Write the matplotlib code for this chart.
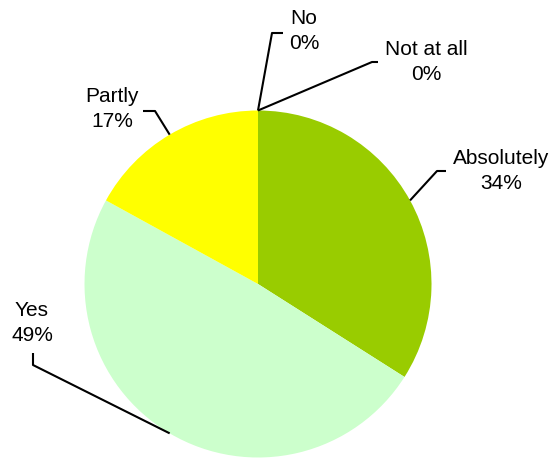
import numpy as np
import matplotlib
matplotlib.use('agg')
import matplotlib.pyplot as plt

labels = ['Absolutely', 'Yes', 'Partly', 'No', 'Not at all']
values = [34, 49, 17, 0, 0]
colors = ['#99CC00', '#CCFFCC', '#FFFF00', '#FF9900', '#3366FF']

W, H = 553, 458
cx, cy, r = 258, H - 284, 173.5

# label text centre and leader elbow (image pixels, y down), per slice
label_pos = {
    'Absolutely': (501, 171),
    'Yes': (32, 323),
    'Partly': (112, 109),
    'No': (304, 31),
    'Not at all': (426, 62),
}
elbows = {
    'Absolutely': [(437, 171), (446, 171)],
    'Yes': [(33, 365), (33, 353)],
    'Partly': [(155, 111), (143, 111)],
    'No': [(272, 33), (283, 33)],
    'Not at all': [(372, 62), (378, 62)],
}

fig = plt.figure(figsize=(W / 100, H / 100), dpi=100)
ax = fig.add_axes([0, 0, 1, 1])
wedges, _ = ax.pie(values, colors=colors, startangle=90, counterclock=False,
                   center=(cx, cy), radius=r, wedgeprops=dict(linewidth=0))
ax.set_xlim(0, W)
ax.set_ylim(0, H)
ax.set_aspect('equal')
ax.axis('off')

total = float(sum(values))
cum = 0.0
for lab, v in zip(labels, values):
    mid = cum + v / 2.0
    cum += v
    ang = np.deg2rad(90 - 360 * mid / total)
    x0, y0 = cx + r * np.cos(ang), cy + r * np.sin(ang)
    xs = [x0] + [p[0] for p in elbows[lab]]
    ys = [y0] + [H - p[1] for p in elbows[lab]]
    ax.plot(xs, ys, color='black', lw=1.5, solid_capstyle='butt')
    tx, ty = label_pos[lab]
    ax.text(tx, H - ty, '%s\n%d%%' % (lab, v), ha='center', va='center',
            fontsize=15, family='Liberation Sans', linespacing=1.4)

plt.savefig('out.png', dpi=100, facecolor='white')
